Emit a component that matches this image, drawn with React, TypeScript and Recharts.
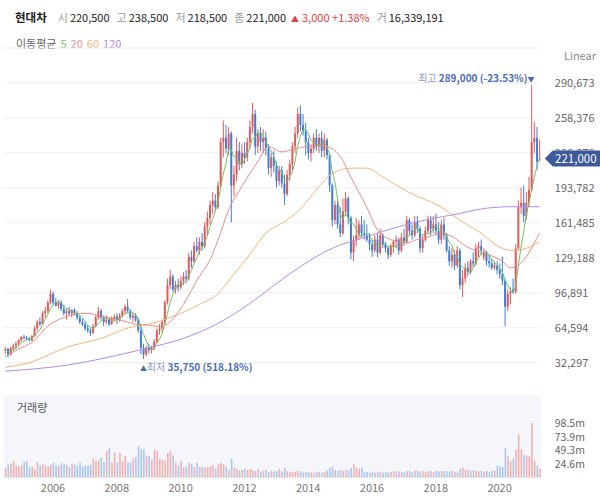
import React from "react";
import {
  Bar,
  CartesianGrid,
  Cell,
  ComposedChart,
  Line,
  ReferenceDot,
  ReferenceLine,
  XAxis,
  YAxis,
} from "recharts";

// monthly candles, Jul 2004 .. Apr 2021, prices in thousand won
const opens = [
  44, 45, 40, 46, 48, 50,
  53, 56, 55, 54, 53, 57, 64, 70, 68, 78, 80, 88,
  96, 88, 85, 88, 82, 78, 80, 78, 81, 78, 74, 70,
  68, 64, 62, 60, 66, 74, 80, 74, 70, 72, 68, 73,
  75, 72, 76, 80, 84, 80, 74, 76, 72, 62, 46, 40,
  46, 44, 46, 52, 62, 64, 70, 88, 104, 112, 100, 104,
  102, 108, 112, 110, 130, 126, 140, 136, 144, 140, 158, 166,
  178, 182, 176, 196, 236, 240, 230, 244, 196, 206, 228, 216,
  226, 222, 236, 250, 262, 232, 244, 236, 240, 230, 212, 222,
  214, 200, 210, 198, 188, 206, 216, 232, 244, 262, 252, 246,
  236, 226, 230, 240, 232, 240, 228, 238, 224, 196, 164, 178,
  160, 152, 172, 184, 166, 134, 146, 150, 160, 152, 150, 146,
  142, 136, 146, 134, 150, 142, 138, 132, 140, 144, 146, 136,
  148, 144, 164, 154, 150, 162, 156, 138, 146, 154, 164, 156,
  160, 154, 146, 160, 150, 136, 126, 132, 122, 136, 104, 110,
  120, 116, 126, 124, 138, 140, 130, 134, 126, 124, 120, 122,
  118, 114, 108, 84, 96, 100, 98, 138, 176, 180, 168, 180,
  192, 236, 240, 220.5,
];
const highs = [
  47, 46, 47, 50, 52, 54,
  57, 58, 57, 56, 58, 66, 72, 74, 80, 84, 90, 100,
  98, 92, 90, 90, 86, 82, 84, 82, 83, 80, 76, 73,
  70, 67, 64, 68, 76, 84, 82, 76, 76, 74, 75, 77,
  78, 78, 82, 86, 91, 82, 78, 78, 74, 66, 50, 48,
  50, 48, 54, 64, 68, 72, 90, 110, 118, 114, 108, 110,
  112, 116, 118, 134, 136, 144, 148, 148, 152, 162, 172, 182,
  190, 188, 200, 240, 256, 252, 250, 246, 214, 240, 236, 234,
  236, 240, 256, 272.5, 266, 248, 250, 248, 246, 234, 226, 228,
  218, 214, 214, 206, 210, 220, 236, 250, 268, 270, 262, 254,
  240, 234, 244, 248, 244, 246, 244, 240, 226, 198, 182, 182,
  176, 184, 190, 186, 168, 150, 166, 164, 168, 164, 160, 152,
  146, 150, 152, 156, 152, 144, 140, 142, 146, 150, 148, 152,
  156, 168, 166, 160, 168, 168, 158, 150, 158, 168, 168, 168,
  170, 162, 164, 166, 152, 140, 138, 136, 140, 138, 118, 124,
  126, 128, 134, 142, 144, 146, 138, 136, 132, 128, 126, 126,
  124, 130, 110, 100, 102, 110, 142, 182, 194, 196, 190, 204,
  289, 255, 250, 238.5,
];
const lows = [
  40, 37, 39, 43, 45, 48,
  52, 54, 53, 52, 52, 56, 62, 66, 67, 74, 78, 86,
  86, 84, 82, 80, 76, 72, 76, 74, 76, 72, 68, 66,
  62, 60, 57, 59, 65, 72, 72, 66, 68, 66, 67, 70,
  68, 70, 74, 77, 78, 72, 70, 70, 60, 40, 35.75, 38,
  41, 41, 44, 50, 58, 60, 68, 86, 100, 98, 96, 98,
  100, 104, 106, 108, 120, 124, 134, 132, 136, 138, 150, 160,
  170, 172, 174, 194, 222, 226, 224, 162, 186, 200, 210, 212,
  216, 218, 230, 244, 224, 226, 228, 226, 224, 206, 204, 208,
  194, 196, 194, 178, 186, 200, 210, 226, 240, 246, 242, 224,
  220, 218, 226, 228, 226, 222, 222, 220, 190, 158, 160, 156,
  148, 150, 168, 160, 128, 126, 140, 146, 148, 146, 144, 136,
  130, 134, 130, 132, 138, 134, 128, 130, 134, 138, 132, 134,
  140, 142, 150, 146, 148, 152, 134, 134, 144, 152, 150, 152,
  150, 142, 142, 146, 134, 122, 120, 118, 120, 100, 93, 106,
  112, 114, 120, 122, 130, 132, 127, 122, 120, 118, 118, 114,
  110, 104, 65.9, 80, 86, 96, 96, 136, 170, 162, 164, 176,
  190, 226, 210, 218.5,
];
const closes = [
  45, 40, 46, 48, 50, 53,
  56, 55, 54, 53, 57, 64, 70, 68, 78, 80, 88, 96,
  88, 85, 88, 82, 78, 80, 78, 81, 78, 74, 70, 68,
  64, 62, 60, 66, 74, 80, 74, 70, 72, 68, 73, 75,
  72, 76, 80, 84, 80, 74, 76, 72, 62, 46, 40, 46,
  44, 46, 52, 62, 64, 70, 88, 104, 112, 100, 104, 102,
  108, 112, 110, 130, 126, 140, 136, 144, 140, 158, 166, 178,
  182, 176, 196, 236, 240, 230, 244, 196, 206, 228, 216, 226,
  222, 236, 250, 262, 232, 244, 236, 240, 230, 212, 222, 214,
  200, 210, 198, 188, 206, 216, 232, 244, 262, 252, 246, 236,
  226, 230, 240, 232, 240, 228, 238, 224, 196, 164, 178, 160,
  152, 172, 184, 166, 134, 146, 150, 160, 152, 150, 146, 142,
  136, 146, 134, 150, 142, 138, 132, 140, 144, 146, 136, 148,
  144, 164, 154, 150, 162, 156, 138, 146, 154, 164, 156, 160,
  154, 146, 160, 150, 136, 126, 132, 122, 136, 104, 110, 120,
  116, 126, 124, 138, 140, 136, 134, 126, 124, 120, 122, 118,
  114, 108, 84, 96, 98, 98, 138, 176, 180, 168, 180, 192,
  236, 240, 218, 221,
];
// volume in millions of shares
const volumes = [
  18, 24, 25, 30, 22, 20,
  23, 28, 30, 19, 20, 15, 28, 22, 24, 22, 20, 23,
  27, 22, 21, 26, 24, 23, 19, 25, 24, 22, 28, 20,
  22, 21, 23, 34, 30, 31, 36, 28, 48, 54, 27, 45,
  28, 45, 30, 39, 28, 27, 34, 37, 57, 52, 51, 40,
  39, 33, 51, 48, 34, 33, 31, 45, 48, 40, 27, 22,
  31, 18, 20, 27, 25, 19, 27, 20, 19, 18, 19, 20,
  22, 16, 24, 27, 24, 20, 14, 34, 18, 16, 13, 14,
  16, 14, 15, 14, 12, 15, 11, 13, 14, 10, 12, 11,
  12, 16, 11, 18, 12, 10, 11, 10, 12, 11, 9, 10,
  10, 9, 9, 11, 10, 9, 10, 13, 18, 19, 14, 12,
  13, 12, 14, 13, 18, 24, 18, 16, 18, 11, 10, 9,
  11, 9, 10, 11, 9, 10, 9, 10, 11, 12, 11, 10,
  10, 12, 12, 10, 13, 13, 11, 12, 11, 11, 12, 10,
  12, 11, 12, 11, 12, 11, 12, 10, 9, 15, 18, 14,
  14, 12, 13, 13, 11, 12, 11, 12, 10, 12, 13, 22,
  20, 19, 54, 40, 30, 35, 51, 78, 51, 42, 40, 39,
  98.5, 30, 22, 16.339191,
];

// longer moving averages (history before 2004 is not in the candles)
const ma20Points: [string, number][] = [
  ["2004-07", 38], ["2004-12", 45], ["2005-05", 51], ["2005-12", 68], ["2006-04", 73],
  ["2006-09", 77], ["2007-02", 78], ["2007-07", 75], ["2008-01", 72.5], ["2008-09", 67.5],
  ["2009-01", 67], ["2009-05", 65.6], ["2009-08", 68], ["2010-02", 86], ["2010-08", 112],
  ["2010-12", 127], ["2011-03", 145], ["2011-07", 173], ["2011-12", 195], ["2012-06", 218],
  ["2012-10", 232], ["2013-03", 227], ["2013-08", 230], ["2014-05", 233], ["2014-10", 230],
  ["2015-02", 219], ["2015-05", 204], ["2015-11", 176], ["2016-03", 155], ["2016-08", 146],
  ["2017-02", 143], ["2017-06", 146], ["2017-11", 149], ["2018-02", 152], ["2018-07", 149],
  ["2019-01", 139], ["2019-08", 133], ["2020-02", 126], ["2020-05", 120], ["2020-07", 121],
  ["2020-11", 130], ["2021-02", 142.6], ["2021-04", 152],
];
const ma60Points: [string, number][] = [
  ["2004-07", 28], ["2005-05", 33], ["2006-06", 46.5], ["2007-07", 54.8], ["2008-07", 65.6],
  ["2009-01", 68], ["2009-09", 74], ["2010-08", 86], ["2011-03", 96], ["2011-09", 114],
  ["2012-03", 132], ["2012-09", 152], ["2013-03", 161], ["2013-10", 174], ["2014-04", 192],
  ["2014-10", 207], ["2015-05", 212], ["2015-11", 212], ["2016-05", 204], ["2016-11", 195],
  ["2017-06", 186], ["2017-12", 180], ["2018-03", 176], ["2018-10", 164], ["2019-06", 152],
  ["2020-01", 139], ["2020-06", 136], ["2020-11", 138], ["2021-04", 144],
];
const ma120Points: [string, number][] = [
  ["2004-07", 24.5], ["2006-06", 30], ["2008-07", 42.5], ["2009-01", 46], ["2010-02", 54.8],
  ["2011-03", 68.5], ["2012-03", 87], ["2013-03", 109], ["2013-10", 121], ["2014-10", 138],
  ["2015-11", 148.7], ["2016-11", 158], ["2017-06", 162.5], ["2017-12", 165.7], ["2018-07", 168.7],
  ["2019-08", 175], ["2020-06", 176.4], ["2021-04", 176.4],
];

const priceTicks = [32297, 64594, 96891, 129188, 161485, 193782, 226079, 258376, 290673];
const priceDomain = [0, 322970];
const volumeTicks = [24.625, 49.25, 73.875, 98.5];
const yearTicks = ["2006", "2008", "2010", "2012", "2014", "2016", "2018", "2020"];

const maPeriods = [5, 20, 60, 120];
const maColors = ["#6fc465", "#ea8a8a", "#f3b47a", "#b48ae8"];

const UP = "#e25b5b";
const DOWN = "#3f7fd6";
const VOL_UP = "#f2b0b0";
const VOL_DOWN = "#a9c8ee";
const LABEL_BLUE = "#4a6cb5";

const months = closes.map((_, i) => {
  const t = 6 + i;
  return `${2004 + Math.floor(t / 12)}-${String((t % 12) + 1).padStart(2, "0")}`;
});

const ma5 = closes.map((_, i) => {
  const w = closes.slice(Math.max(0, i - 4), i + 1);
  return w.reduce((a, b) => a + b, 0) / w.length;
});

const ma20Map = new Map(ma20Points);
const ma60Map = new Map(ma60Points);
const ma120Map = new Map(ma120Points);

const rows = months.map((date, i) => ({
  date,
  open: opens[i] * 1000,
  high: highs[i] * 1000,
  low: lows[i] * 1000,
  close: closes[i] * 1000,
  range: [lows[i] * 1000, highs[i] * 1000],
  volume: volumes[i],
  ma5: ma5[i] * 1000,
  ma20: ma20Map.has(date) ? ma20Map.get(date)! * 1000 : null,
  ma60: ma60Map.has(date) ? ma60Map.get(date)! * 1000 : null,
  ma120: ma120Map.has(date) ? ma120Map.get(date)! * 1000 : null,
}));

const last = rows[rows.length - 1];
const prev = rows[rows.length - 2];
const topRow = rows.reduce((a, b) => (b.high > a.high ? b : a));
const bottomRow = rows.reduce((a, b) => (b.low < a.low ? b : a));
const fmt = (v: number) => v.toLocaleString("en-US");

function Candle(props: any) {
  const { x, y, width, height, payload } = props;
  const { open, close, high, low } = payload;
  const color = close >= open ? UP : DOWN;
  const span = high - low || 1;
  const yAt = (v: number) => y + ((high - v) / span) * height;
  const cx = x + width / 2;
  const top = yAt(Math.max(open, close));
  const bottom = yAt(Math.min(open, close));
  return (
    <g>
      <line x1={cx} x2={cx} y1={y} y2={y + height} stroke={color} strokeWidth={1} />
      <rect x={cx - 1} y={top} width={2} height={Math.max(bottom - top, 1)} fill={color} />
    </g>
  );
}

function HighMark({ cx, cy }: any) {
  const pct = ((last.close / topRow.high - 1) * 100).toFixed(2);
  return (
    <text x={cx + 3} y={cy - 3} textAnchor="end" fontSize={10}>
      <tspan fill="#8c9cc6">최고 </tspan>
      <tspan fill={LABEL_BLUE} fontWeight={600}>{`${fmt(topRow.high)} (${pct}%)`}</tspan>
      <tspan fill={LABEL_BLUE} fontSize={7}>▼</tspan>
    </text>
  );
}

function LowMark({ cx, cy }: any) {
  const pct = ((last.close / bottomRow.low - 1) * 100).toFixed(2);
  return (
    <text x={cx - 3.5} y={cy + 12.5} textAnchor="start" fontSize={10}>
      <tspan fill={LABEL_BLUE} fontSize={7}>▲</tspan>
      <tspan fill="#8c9cc6">최저 </tspan>
      <tspan fill={LABEL_BLUE} fontWeight={600}>{`${fmt(bottomRow.low)} (${pct}%)`}</tspan>
    </text>
  );
}

function PriceBadge({ viewBox }: any) {
  const x = viewBox.x + viewBox.width + 4;
  const y = viewBox.y;
  return (
    <g>
      <polygon
        points={`${x},${y} ${x + 8},${y - 8} ${x + 56},${y - 8} ${x + 56},${y + 8} ${x + 8},${y + 8}`}
        fill="#3d5a9b"
      />
      <text x={x + 31} y={y} dy="0.36em" textAnchor="middle" fill="#fff" fontSize={11.5}>
        {fmt(last.close)}
      </text>
    </g>
  );
}

const axisTick = { fill: "#666", fontSize: 11 };
const priceMargin = { top: 48, right: 0, bottom: 2.3, left: 3.83 };

export default function App() {
  const change = last.close - prev.close;
  const changePct = ((change / prev.close) * 100).toFixed(2);
  const quote: [string, number][] = [
    ["시", last.open],
    ["고", last.high],
    ["저", last.low],
    ["종", last.close],
  ];

  return (
    <div
      style={{
        position: "absolute",
        left: 0,
        top: 0,
        width: 600,
        height: 500,
        background: "#fff",
        fontFamily: "'Noto Sans CJK KR', 'Noto Sans', sans-serif",
        overflow: "hidden",
      }}
    >
      <div
        style={{
          position: "absolute",
          left: 15,
          top: 9,
          fontSize: 11,
          lineHeight: "16px",
          whiteSpace: "nowrap",
          color: "#222",
        }}
      >
        <b style={{ fontSize: 11.5, marginRight: 4 }}>현대차</b>
        {quote.map(([k, v]) => (
          <span key={k} style={{ marginLeft: 7 }}>
            <span style={{ color: "#999", marginRight: 2 }}>{k}</span>
            {fmt(v)}
          </span>
        ))}
        <span style={{ color: "#e0403f", marginLeft: 5 }}>
          <span style={{ fontSize: 8, marginRight: 3 }}>▲</span>
          {fmt(change)} +{changePct}%
        </span>
        <span style={{ marginLeft: 7 }}>
          <span style={{ color: "#999", marginRight: 2 }}>거</span>
          {fmt(Math.round(last.volume * 1e6))}
        </span>
      </div>

      <div
        style={{
          position: "absolute",
          left: 16,
          top: 35,
          fontSize: 11,
          lineHeight: "16px",
          whiteSpace: "nowrap",
          color: "#666",
        }}
      >
        이동평균
        {maPeriods.map((p, i) => (
          <span key={p} style={{ color: maColors[i], marginLeft: 4 }}>
            {p}
          </span>
        ))}
      </div>

      <div
        style={{
          position: "absolute",
          right: 4,
          top: 47,
          fontSize: 11,
          lineHeight: "16px",
          color: "#888",
        }}
      >
        Linear
      </div>

      <div style={{ position: "absolute", left: 0, top: 0 }}>
        <ComposedChart width={600} height={400} data={rows} margin={priceMargin} barCategoryGap={0}>
          <CartesianGrid vertical={false} stroke="#efefef" />
          <XAxis dataKey="date" hide />
          <YAxis
            orientation="right"
            domain={priceDomain}
            ticks={priceTicks}
            interval={0}
            width={59.2}
            axisLine={false}
            tickLine={false}
            tickMargin={8}
            tick={axisTick}
            tickFormatter={(v: number) => fmt(v)}
          />
          <Bar dataKey="range" shape={<Candle />} isAnimationActive={false} />
          <Line dataKey="ma120" stroke={maColors[3]} strokeWidth={1} dot={false} activeDot={false} type="monotone" connectNulls isAnimationActive={false} />
          <Line dataKey="ma60" stroke={maColors[2]} strokeWidth={1} dot={false} activeDot={false} type="monotone" connectNulls isAnimationActive={false} />
          <Line dataKey="ma20" stroke={maColors[1]} strokeWidth={1} dot={false} activeDot={false} type="monotone" connectNulls isAnimationActive={false} />
          <Line dataKey="ma5" stroke={maColors[0]} strokeWidth={1} dot={false} activeDot={false} type="linear" isAnimationActive={false} />
          <ReferenceDot x={topRow.date} y={topRow.high} r={0} shape={<HighMark />} />
          <ReferenceDot x={bottomRow.date} y={bottomRow.low} r={0} shape={<LowMark />} />
        </ComposedChart>
      </div>

      {/* last-price badge sits over the axis ticks, same scale as the price chart */}
      <div style={{ position: "absolute", left: 0, top: 0 }}>
        <ComposedChart
          width={600}
          height={400}
          data={rows}
          margin={{ ...priceMargin, right: 59.2 }}
        >
          <XAxis dataKey="date" hide />
          <YAxis domain={priceDomain} hide />
          <Line dataKey="close" stroke="none" dot={false} activeDot={false} isAnimationActive={false} />
          <ReferenceLine y={last.close} stroke="none" label={<PriceBadge />} />
        </ComposedChart>
      </div>

      <div style={{ position: "absolute", left: 0, top: 390 }}>
        <ComposedChart
          width={600}
          height={110}
          data={rows}
          margin={{ top: 5, right: 0, bottom: 0, left: 3.83 }}
          barCategoryGap={0}
        >
          <CartesianGrid horizontal={false} vertical={false} fill="#f4f6fb" />
          <XAxis
            dataKey="date"
            ticks={yearTicks.map((y) => `${y}-01`)}
            tickFormatter={(d: string) => d.slice(0, 4)}
            interval={0}
            height={22.4}
            axisLine={false}
            tickLine={false}
            tickMargin={1}
            tick={{ fill: "#777", fontSize: 11 }}
          />
          <YAxis
            orientation="right"
            domain={[0, 149.6]}
            ticks={volumeTicks}
            interval={0}
            width={59.2}
            axisLine={false}
            tickLine={false}
            tickMargin={8}
            tick={{ fill: "#666", fontSize: 10.5 }}
            tickFormatter={(v: number) => `${v.toFixed(1)}m`}
          />
          <Bar dataKey="volume" barSize={1.6} isAnimationActive={false}>
            {rows.map((r) => (
              <Cell key={r.date} fill={r.close >= r.open ? VOL_UP : VOL_DOWN} />
            ))}
          </Bar>
        </ComposedChart>
        <div
          style={{
            position: "absolute",
            left: 17,
            top: 9,
            fontSize: 11,
            lineHeight: "16px",
            color: "#555",
          }}
        >
          거래량
        </div>
      </div>
    </div>
  );
}
